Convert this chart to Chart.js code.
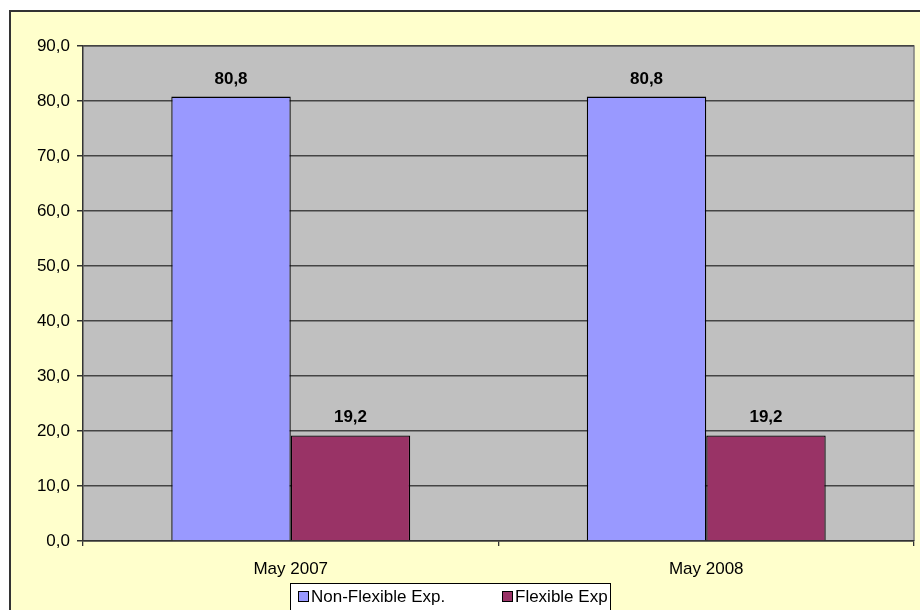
<!DOCTYPE html>
<html>
<head>
<meta charset="utf-8">
<script src="https://cdn.jsdelivr.net/npm/chart.js@4.4.0/dist/chart.umd.min.js"></script>
<style>
  body { margin: 0; background: #fff; overflow: hidden; width: 920px; height: 610px; }
  #frame { position: absolute; left: 9px; top: 10px; width: 930px; height: 620px;
           background: #FFFFCC; border: 2px solid #333; }
  #wrap { position: absolute; left: 0; top: 0; width: 920px; height: 610px; }
</style>
</head>
<body>
<div id="frame"></div>
<div id="wrap"><canvas id="expChart" width="920" height="610"></canvas></div>
<script>
// ===== data =====
const categories = ['May 2007', 'May 2008'];
const nonFlexible = [80.8, 80.8];
const flexible = [19.2, 19.2];
const seriesNames = ['Non-Flexible Exp.', 'Flexible Exp'];
const seriesColors = ['#9999FF', '#993366'];

const FONT = '"Liberation Sans", Arial, sans-serif';
const fmt = v => Number(v).toFixed(1).replace('.', ',');

// gray plot area
const plotBg = {
    id: 'plotBg',
    beforeDraw(chart) {
        const { ctx, chartArea: a } = chart;
        ctx.save();
        ctx.fillStyle = '#C0C0C0';
        ctx.fillRect(a.left, a.top, a.right - a.left, a.bottom - a.top);
        ctx.strokeStyle = '#808080';
        ctx.lineWidth = 1.5;
        ctx.beginPath();
        ctx.moveTo(a.left, a.top);
        ctx.lineTo(a.right, a.top);
        ctx.lineTo(a.right, a.bottom);
        ctx.stroke();
        ctx.restore();
    }
};

// value labels above bars
const valueLabels = {
    id: 'valueLabels',
    afterDatasetsDraw(chart) {
        const ctx = chart.ctx;
        ctx.save();
        ctx.font = 'bold 17px ' + FONT;
        ctx.fillStyle = '#000';
        ctx.textAlign = 'center';
        ctx.textBaseline = 'alphabetic';
        chart.data.datasets.forEach((ds, i) => {
            chart.getDatasetMeta(i).data.forEach((bar, j) => {
                ctx.fillText(fmt(ds.data[j]), bar.x, bar.y - 13);
            });
        });
        ctx.restore();
    }
};

// boxed legend at the bottom
const boxLegend = {
    id: 'boxLegend',
    afterDraw(chart) {
        const ctx = chart.ctx;
        ctx.save();
        ctx.fillStyle = '#fff';
        ctx.fillRect(290, 583, 320, 40);
        ctx.strokeStyle = '#000';
        ctx.lineWidth = 1;
        ctx.strokeRect(290.5, 583.5, 320, 40);
        const xs = [298, 502];
        ctx.font = '17px ' + FONT;
        ctx.textBaseline = 'middle';
        chart.data.datasets.forEach((ds, i) => {
            ctx.fillStyle = ds.backgroundColor;
            ctx.fillRect(xs[i], 591, 10, 10);
            ctx.strokeStyle = '#000';
            ctx.strokeRect(xs[i] + 0.5, 591.5, 10, 10);
            ctx.fillStyle = '#000';
            ctx.fillText(ds.label, xs[i] + 13, 597);
        });
        ctx.restore();
    }
};

new Chart(document.getElementById('expChart'), {
    type: 'bar',
    data: {
        labels: categories,
        datasets: [
            { label: seriesNames[0], data: nonFlexible, backgroundColor: seriesColors[0],
              borderColor: '#000', borderWidth: 1.3, categoryPercentage: 0.575, barPercentage: 1 },
            { label: seriesNames[1], data: flexible, backgroundColor: seriesColors[1],
              borderColor: '#000', borderWidth: 1.3, categoryPercentage: 0.575, barPercentage: 1 }
        ]
    },
    options: {
        responsive: false,
        animation: false,
        layout: { padding: { top: 46, right: 6, left: 0, bottom: 0 } },
        plugins: { legend: { display: false }, tooltip: { enabled: false } },
        scales: {
            y: {
                min: 0, max: 90,
                afterFit: s => { s.width = 83; },
                ticks: { stepSize: 10, callback: v => fmt(v), color: '#000',
                         font: { size: 17, family: FONT }, padding: 7 },
                grid: { color: '#444', lineWidth: 1.5, tickLength: 6, tickColor: '#333' },
                border: { color: '#333', width: 1.5 }
            },
            x: {
                afterFit: s => { s.height = 69; },
                ticks: { color: '#000', font: { size: 17, family: FONT }, padding: 13 },
                grid: { drawOnChartArea: false, tickLength: 5, color: '#333', lineWidth: 1.3 },
                border: { color: '#333', width: 1.5 }
            }
        }
    },
    plugins: [plotBg, valueLabels, boxLegend]
});
</script>
</body>
</html>
